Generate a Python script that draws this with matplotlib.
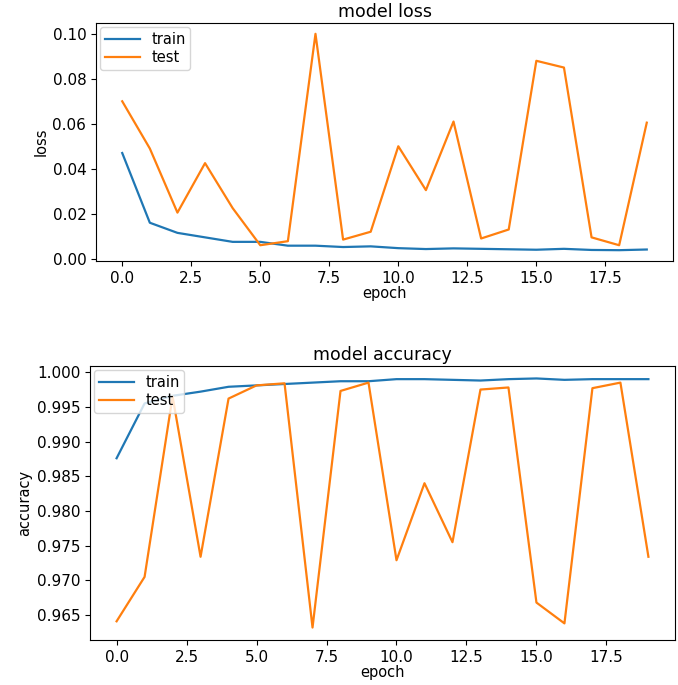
import matplotlib
matplotlib.use("Agg")
import matplotlib.pyplot as plt

epochs = list(range(20))

loss_train = [0.047, 0.016, 0.0115, 0.0095, 0.0075, 0.0075, 0.0058, 0.0058, 0.0052, 0.0055,
              0.0047, 0.0043, 0.0046, 0.0044, 0.0042, 0.0040, 0.0044, 0.0039, 0.0038, 0.0041]
loss_test = [0.070, 0.049, 0.0205, 0.0425, 0.0225, 0.0060, 0.0078, 0.100, 0.0085, 0.012,
             0.050, 0.0305, 0.061, 0.0090, 0.013, 0.088, 0.085, 0.0095, 0.0060, 0.0605]

acc_train = [0.9876, 0.9955, 0.9966, 0.9972, 0.9979, 0.9981, 0.9983, 0.9985, 0.9987, 0.9987,
             0.9990, 0.9990, 0.9989, 0.9988, 0.9990, 0.9991, 0.9989, 0.9990, 0.9990, 0.9990]
acc_test = [0.9641, 0.9705, 0.9965, 0.9734, 0.9962, 0.9981, 0.9984, 0.9632, 0.9973, 0.9985,
            0.9729, 0.9840, 0.9755, 0.9975, 0.9978, 0.9668, 0.9638, 0.9977, 0.9985, 0.9734]

W, H = 678, 685
fig = plt.figure(figsize=(W / 100, H / 100), dpi=100)

# axes boxes in pixels: left, top, right, bottom
def box(l, t, r, b):
    return [l / W, 1 - b / H, (r - l) / W, (b - t) / H]

def draw(ax, train, test, title, ylabel):
    ax.plot(epochs, train, label="train", lw=1.6)
    ax.plot(epochs, test, label="test", lw=1.6)
    ax.set_title(title, fontsize=12.5, pad=4)
    ax.set_ylabel(ylabel, fontsize=10.5, labelpad=3)
    ax.set_xlabel("epoch", fontsize=10.5, labelpad=0)
    ax.legend(loc="upper left", fontsize=10.5, labelspacing=0.25,
              handlelength=2.4, borderpad=0.3, borderaxespad=0.3)
    ax.tick_params(labelsize=11)

ax1 = fig.add_axes(box(96, 23, 673, 261))
draw(ax1, loss_train, loss_test, "model loss", "loss")

ax2 = fig.add_axes(box(90, 366, 675, 640))
draw(ax2, acc_train, acc_test, "model accuracy", "accuracy")

fig.savefig("out.png", dpi=100)
